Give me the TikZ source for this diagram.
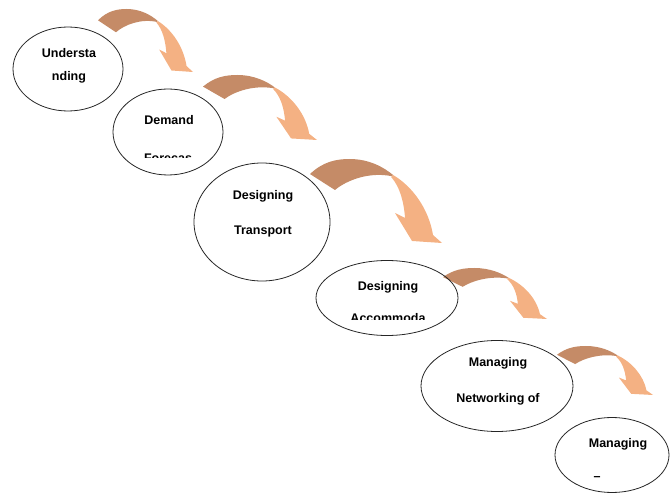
\documentclass[tikz,border=0pt]{standalone}
\usepackage{fontspec}
\setmainfont{Liberation Sans}
\usetikzlibrary{shapes.geometric}
\definecolor{arrowdark}{RGB}{197,139,103}
\definecolor{arrowlight}{RGB}{244,177,131}
\tikzset{
  bubble/.style={ellipse, draw=black!85, line width=0.8pt, inner sep=0pt},
  label/.style={anchor=base, inner sep=0pt, font=\fontsize{12.5}{15}\selectfont\bfseries},
}
\newcommand{\curvedarrow}[4]{%
  \begin{scope}[shift={(#1,#2)}, x=#3pt, y=-#4pt]
    \fill[arrowdark] (0,0.179) .. controls (0.1,0.03) and (0.2,0) .. (0.3,0)
      .. controls (0.45,0) and (0.56,0.1) .. (0.629,0.19) -- (0.62,0.205)
      .. controls (0.45,0.15) and (0.28,0.25) .. (0.189,0.369) -- cycle;
    \fill[arrowlight] (0.629,0.19) .. controls (0.78,0.33) and (0.9,0.6) .. (0.932,0.905)
      -- (1,1) -- (0.773,0.976) -- (0.644,0.643) -- (0.72,0.702)
      .. controls (0.71,0.5) and (0.68,0.33) .. (0.615,0.215) -- cycle;
  \end{scope}}
\begin{document}
\begin{tikzpicture}[x=1pt, y=-1pt]
\useasboundingbox (0,0) rectangle (670,494);
% curved arrows
\curvedarrow{98}{9}{95}{63}
\curvedarrow{203}{75}{114}{65}
\curvedarrow{310}{159}{132}{84}
\curvedarrow{443}{268}{104}{51}
\curvedarrow{557}{346}{96}{49}
% ellipses
\node[bubble, minimum width=110pt, minimum height=84pt] (e1) at (68,69) {};
\node[bubble, minimum width=110pt, minimum height=86pt] (e2) at (168,132) {};
\node[bubble, minimum width=136pt, minimum height=118pt] (e3) at (262,222) {};
\node[bubble, minimum width=142pt, minimum height=75pt] (e4) at (387,298) {};
\node[bubble, minimum width=152pt, minimum height=91pt] (e5) at (497,386) {};
\node[bubble, minimum width=114pt, minimum height=75pt] (e6) at (612,455) {};
% texts
\node[label] (t1a) at (69,58) {Understa};
\node[label] (t1b) at (69,81) {nding};
\node[label] (t2a) at (169,125) {Demand};
\begin{scope}
  \clip (120,140) rectangle (220,158);
  \node[label] (t2b) at (168,163) {Forecas};
\end{scope}
\node[label] (t3a) at (263,200) {Designing};
\node[label] (t3b) at (263,235) {Transport};
\node[label] (t4a) at (388,291) {Designing};
\begin{scope}
  \clip (330,305) rectangle (450,320);
  \node[label] (t4b) at (388,323) {Accommoda};
\end{scope}
\node[label] (t5a) at (498,367) {Managing};
\node[label] (t5b) at (498,403) {Networking of};
\node[label] (t6a) at (618,448) {Managing};
\node[label] (t6b) at (597,480) {–};
\end{tikzpicture}
\end{document}
